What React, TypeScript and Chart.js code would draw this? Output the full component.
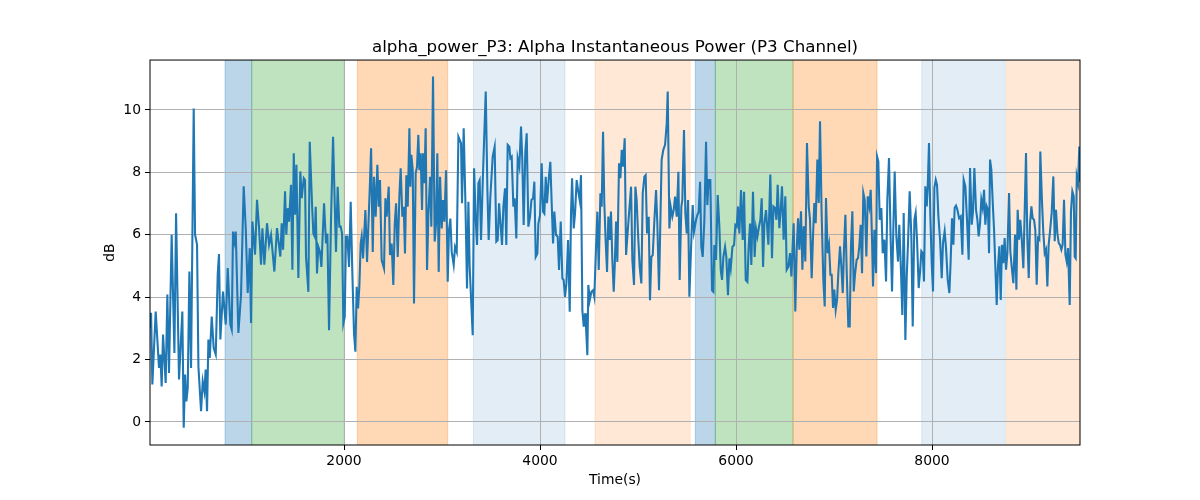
import { useEffect, useRef } from 'react';
import { Chart, registerables } from 'chart.js';

Chart.register(...registerables);

const CHART_TITLE = 'alpha_power_P3: Alpha Instantaneous Power (P3 Channel)';
const X_LABEL = 'Time(s)';
const Y_LABEL = 'dB';

const TIMES = [
  20, 31, 44, 78, 112, 126, 139, 153, 180, 197, 214, 241, 269, 286, 316, 350, 364, 378, 391, 405,
  422, 439, 466, 480, 500, 514, 541, 558, 575, 588, 602, 616, 630, 650, 670, 691, 711, 724, 738, 765,
  793, 813, 840, 854, 867, 881, 895, 908, 922, 949, 976, 997, 1017, 1038, 1051, 1065, 1092, 1112, 1133, 1153,
  1167, 1187, 1214, 1235, 1255, 1289, 1316, 1350, 1364, 1378, 1398, 1411, 1425, 1439, 1459, 1473, 1487, 1500, 1514, 1534,
  1554, 1568, 1589, 1602, 1612, 1636, 1650, 1673, 1687, 1701, 1711, 1724, 1738, 1755, 1769, 1796, 1816, 1830, 1847, 1867,
  1888, 1905, 1918, 1935, 1952, 1966, 1980, 1993, 2007, 2020, 2034, 2051, 2068, 2085, 2102, 2116, 2129, 2143, 2156, 2170,
  2180, 2194, 2218, 2235, 2248, 2262, 2276, 2293, 2306, 2323, 2340, 2354, 2367, 2384, 2408, 2422, 2435, 2456, 2469, 2486,
  2503, 2517, 2531, 2548, 2565, 2578, 2595, 2609, 2622, 2636, 2650, 2667, 2677, 2687, 2701, 2714, 2731, 2745, 2758, 2769,
  2782, 2796, 2806, 2820, 2833, 2847, 2861, 2878, 2891, 2908, 2925, 2939, 2952, 2966, 2980, 2997, 3010, 3024, 3041, 3058,
  3071, 3085, 3099, 3119, 3133, 3150, 3167, 3194, 3204, 3221, 3238, 3255, 3269, 3282, 3313, 3327, 3344, 3357, 3371, 3384,
  3398, 3418, 3446, 3463, 3476, 3493, 3517, 3537, 3554, 3568, 3582, 3599, 3612, 3626, 3643, 3656, 3670, 3687, 3697, 3711,
  3728, 3741, 3758, 3772, 3789, 3806, 3819, 3833, 3850, 3864, 3881, 3898, 3912, 3929, 3942, 3956, 3973, 3983, 4000, 4017,
  4031, 4044, 4058, 4071, 4088, 4105, 4119, 4133, 4146, 4163, 4180, 4194, 4211, 4228, 4241, 4255, 4269, 4286, 4303, 4316,
  4327, 4344, 4357, 4374, 4388, 4405, 4418, 4432, 4446, 4459, 4469, 4483, 4493, 4507, 4524, 4541, 4554, 4571, 4585, 4599,
  4616, 4629, 4643, 4656, 4670, 4684, 4697, 4711, 4724, 4738, 4752, 4762, 4776, 4789, 4806, 4820, 4834, 4847, 4864, 4878,
  4891, 4908, 4929, 4942, 4959, 4973, 4986, 5000, 5017, 5034, 5048, 5065, 5078, 5092, 5109, 5122, 5136, 5150, 5167, 5184,
  5197, 5214, 5231, 5241, 5258, 5276, 5293, 5303, 5320, 5333, 5350, 5364, 5378, 5395, 5412, 5425, 5442, 5452, 5469, 5483,
  5497, 5510, 5524, 5544, 5558, 5571, 5592, 5605, 5619, 5633, 5646, 5660, 5677, 5694, 5707, 5721, 5738, 5755, 5769, 5779,
  5796, 5813, 5830, 5844, 5857, 5871, 5888, 5901, 5918, 5932, 5946, 5963, 5980, 5993, 6007, 6020, 6034, 6051, 6068, 6082,
  6099, 6116, 6129, 6143, 6156, 6173, 6190, 6204, 6218, 6231, 6248, 6262, 6276, 6289, 6306, 6330, 6350, 6367, 6381, 6398,
  6412, 6425, 6442, 6456, 6469, 6486, 6503, 6517, 6534, 6551, 6565, 6575, 6588, 6605, 6619, 6633, 6646, 6663, 6677, 6691,
  6707, 6724, 6742, 6755, 6772, 6786, 6799, 6813, 6830, 6844, 6857, 6874, 6891, 6905, 6918, 6935, 6949, 6963, 6976, 6990,
  7003, 7017, 7031, 7044, 7061, 7075, 7089, 7102, 7116, 7129, 7146, 7160, 7173, 7187, 7201, 7214, 7231, 7245, 7258, 7272,
  7286, 7299, 7313, 7330, 7344, 7360, 7374, 7388, 7398, 7412, 7429, 7439, 7452, 7466, 7483, 7497, 7514, 7531, 7544, 7561,
  7578, 7592, 7605, 7619, 7636, 7653, 7666, 7684, 7697, 7711, 7728, 7742, 7755, 7772, 7789, 7803, 7820, 7833, 7847, 7864,
  7878, 7891, 7905, 7918, 7932, 7946, 7956, 7969, 7983, 7997, 8010, 8024, 8038, 8051, 8065, 8082, 8099, 8112, 8129, 8143,
  8160, 8177, 8190, 8204, 8218, 8231, 8245, 8259, 8276, 8293, 8310, 8323, 8340, 8357, 8374, 8388, 8405, 8418, 8432, 8449,
  8463, 8476, 8490, 8503, 8517, 8531, 8544, 8558, 8571, 8582, 8592, 8605, 8619, 8633, 8646, 8660, 8673, 8687, 8701, 8714,
  8728, 8741, 8755, 8769, 8786, 8799, 8813, 8830, 8847, 8861, 8874, 8888, 8901, 8915, 8932, 8946, 8959, 8973, 8987, 9000,
  9014, 9027, 9041, 9054, 9068, 9082, 9095, 9105, 9122, 9136, 9150, 9163, 9177, 9190, 9204, 9221, 9238, 9252, 9265, 9279,
  9293, 9306, 9320, 9333, 9347, 9361, 9374, 9388, 9405, 9418, 9432, 9446, 9456, 9466, 9477, 9490, 9503, 9510,
];

const VALUES = [
  3.0, 3.5, 1.2, 3.54, 1.73, 2.16, 1.14, 2.8, 1.25, 4.08, 1.57, 6.0, 2.21, 6.69, 1.36, 3.54, -0.19, 1.52, 0.66, 1.09,
  4.82, 1.73, 10.05, 6.0, 5.68, 1.78, 0.34, 1.3, 0.98, 1.68, 0.34, 2.64, 2.05, 3.38, 2.37, 2.16, 4.72, 5.38, 2.64, 4.18,
  3.12, 4.93, 3.12, 2.96, 6.1, 5.78, 6.1, 4.5, 2.85, 4.08, 7.55, 6.21, 4.13, 5.57, 3.17, 6.42, 5.36, 7.12, 6.21, 5.04,
  6.21, 5.04, 6.37, 5.68, 6.0, 4.82, 6.21, 5.3, 6.37, 5.52, 7.39, 6.0, 6.85, 6.42, 7.6, 4.88, 8.61, 6.64, 8.24, 4.61,
  8.03, 7.17, 7.81, 7.75, 5.29, 4.17, 8.98, 7.01, 6.04, 5.94, 6.9, 4.76, 5.61, 5.45, 4.97, 7.01, 5.72, 6.04, 2.94, 6.47,
  9.14, 7.01, 5.45, 7.54, 6.26, 6.26, 6.04, 3.16, 3.37, 5.94, 5.94, 4.97, 7.06, 4.76, 2.83, 2.25, 4.33, 3.64, 4.33, 5.72,
  5.94, 5.24, 6.79, 5.13, 6.26, 7.43, 8.77, 5.45, 7.86, 6.58, 8.24, 6.9, 7.75, 5.19, 4.92, 7.17, 6.58, 7.54, 5.35, 5.72,
  4.39, 6.31, 7.01, 5.29, 7.27, 8.13, 6.58, 6.9, 5.4, 7.91, 6.9, 9.41, 7.54, 8.56, 8.07, 3.8, 7.97, 8.18, 9.2, 8.07,
  8.61, 6.79, 8.61, 7.65, 9.41, 4.87, 6.68, 7.86, 6.26, 11.07, 5.78, 6.36, 8.61, 4.81, 7.86, 6.2, 7.11, 6.42, 8.07, 4.49,
  6.15, 6.52, 5.45, 5.03, 5.61, 5.45, 9.14, 8.93, 7.01, 9.41, 7.11, 4.28, 7.06, 4.97, 2.78, 8.13, 6.47, 5.67, 7.65, 7.75,
  5.83, 7.97, 10.59, 7.43, 5.83, 7.22, 8.5, 8.82, 5.78, 5.83, 7.01, 6.26, 5.67, 6.9, 7.49, 5.67, 8.88, 8.82, 8.45, 8.5,
  6.9, 7.17, 5.88, 8.45, 8.18, 9.47, 8.4, 6.31, 8.66, 9.25, 6.26, 6.58, 7.11, 7.17, 7.7, 5.29, 5.4, 6.36, 6.63, 8.29,
  6.74, 6.68, 7.86, 7.01, 7.75, 8.34, 7.01, 5.72, 6.74, 5.99, 5.94, 4.87, 6.42, 4.6, 4.55, 4.01, 4.44, 5.83, 3.53, 6.68,
  7.81, 6.2, 6.68, 7.75, 7.43, 7.11, 7.91, 3.58, 3.05, 3.48, 3.05, 2.14, 4.39, 3.9, 4.17, 4.22, 4.01, 5.56, 6.74, 4.87,
  7.33, 6.9, 9.3, 7.01, 5.78, 4.81, 6.58, 5.83, 6.74, 5.19, 4.17, 4.97, 6.42, 5.13, 8.29, 7.81, 8.72, 8.18, 9.09, 5.35,
  5.94, 6.68, 7.54, 5.19, 4.39, 7.54, 7.11, 6.04, 4.97, 4.44, 7.33, 7.86, 7.91, 6.04, 6.58, 3.9, 5.29, 5.35, 6.47, 7.43,
  6.36, 4.22, 6.9, 8.4, 8.72, 8.88, 9.57, 10.59, 6.2, 6.9, 6.58, 6.79, 7.22, 6.58, 8.02, 4.55, 6.9, 7.11, 9.36, 6.68,
  6.04, 7.11, 4.01, 5.83, 6.95, 6.1, 6.47, 6.63, 6.74, 7.7, 5.61, 5.29, 6.47, 8.98, 6.95, 7.75, 7.75, 4.22, 4.17, 5.67,
  5.19, 7.27, 6.26, 4.87, 4.55, 5.29, 5.61, 5.29, 4.06, 5.24, 4.92, 5.61, 5.67, 6.31, 6.26, 6.9, 6.04, 7.43, 5.83, 7.38,
  4.55, 4.49, 5.61, 6.36, 5.03, 7.38, 5.29, 6.2, 5.94, 6.2, 6.47, 7.17, 4.97, 6.36, 6.79, 5.68, 7.93, 5.25, 6.91, 6.86,
  6.48, 7.6, 6.21, 6.8, 7.55, 5.84, 7.23, 4.88, 4.98, 5.41, 4.66, 5.41, 6.37, 3.54, 5.52, 6.53, 5.52, 6.75, 4.88, 6.27,
  5.14, 8.94, 6.91, 6.48, 4.61, 6.0, 7.02, 6.37, 8.41, 7.02, 9.64, 6.59, 4.56, 3.7, 7.18, 5.41, 5.68, 4.72, 4.72, 3.65,
  4.24, 3.59, 3.91, 4.77, 5.63, 4.98, 4.13, 5.57, 6.64, 4.88, 3.06, 3.06, 5.63, 6.75, 4.18, 4.72, 5.2, 5.25, 5.63, 6.32,
  4.77, 7.34, 7.12, 5.3, 7.23, 6.91, 7.44, 5.84, 4.34, 6.16, 4.77, 8.51, 8.35, 6.48, 6.86, 5.41, 5.84, 4.5, 7.12, 8.46,
  5.84, 4.18, 6.16, 8.03, 5.95, 5.14, 6.32, 4.77, 3.43, 6.7, 2.63, 4.66, 5.73, 7.39, 5.95, 3.06, 6.48, 6.7, 5.84, 4.29,
  4.82, 5.47, 5.41, 4.5, 7.55, 6.91, 7.5, 8.94, 6.59, 5.09, 4.18, 7.5, 7.76, 7.6, 6.59, 5.84, 4.61, 5.73, 6.11, 5.57,
  4.56, 4.13, 5.14, 6.53, 5.68, 6.86, 6.93, 6.8, 6.53, 6.59, 5.36, 7.76, 7.55, 6.48, 5.2, 8.14, 6.32, 6.75, 8.14, 6.8,
  6.48, 5.95, 6.37, 7.12, 6.86, 7.44, 6.32, 6.91, 6.8, 5.41, 8.41, 8.09, 7.07, 6.16, 4.98, 3.75, 4.98, 5.63, 3.91, 5.68,
  5.09, 5.89, 4.88, 5.41, 7.34, 5.47, 4.98, 4.45, 6.0, 4.24, 6.8, 5.84, 6.48, 5.89, 4.93, 6.8, 8.62, 5.84, 4.61, 6.37,
  6.91, 6.53, 6.48, 6.16, 4.4, 5.89, 5.84, 8.67, 7.07, 6.05, 5.41, 5.52, 4.34, 5.68, 6.11, 6.7, 7.87, 5.79, 6.8, 6.05,
  5.73, 5.68, 5.52, 5.68, 7.12, 5.36, 5.14, 5.57, 3.75, 6.75, 7.39, 7.23, 5.3, 5.25, 7.87, 7.66, 8.83, 7.7,
];

const SPAN_START = [786, 1058, 2136, 3320, 4561, 5585, 5789, 6582, 7895, 8762];
const SPAN_END = [1058, 2003, 3058, 4255, 5531, 5789, 6582, 7439, 8748, 9510];
const SPAN_KIND = ['blue', 'green', 'orange', 'lightblue', 'lightorange', 'blue', 'green', 'orange', 'lightblue', 'lightorange'];

const X_TICKS = [2000, 4000, 6000, 8000];
const Y_TICKS = [0, 2, 4, 6, 8, 10];
const X_RANGE = [20, 9510];
const Y_RANGE = [-0.74, 11.6];

const SPAN_COLORS: Record<string, string> = {
  blue: 'rgba(31,119,180,0.3)',
  green: 'rgba(44,160,44,0.3)',
  orange: 'rgba(255,127,14,0.3)',
  lightblue: 'rgba(31,119,180,0.13)',
  lightorange: 'rgba(255,127,14,0.17)',
};

const spansPlugin = {
  id: 'spans',
  beforeDraw(chart: any) {
    const { ctx, chartArea, scales } = chart;
    const xs = scales.x;
    ctx.save();
    ctx.beginPath();
    ctx.rect(chartArea.left, chartArea.top, chartArea.right - chartArea.left, chartArea.bottom - chartArea.top);
    ctx.clip();
    for (let i = 0; i < SPAN_START.length; i++) {
      const x0 = xs.getPixelForValue(SPAN_START[i]);
      const x1 = xs.getPixelForValue(SPAN_END[i]);
      const c = SPAN_COLORS[SPAN_KIND[i]];
      ctx.fillStyle = c;
      ctx.fillRect(x0, chartArea.top, x1 - x0, chartArea.bottom - chartArea.top);
      ctx.strokeStyle = c;
      ctx.lineWidth = 1;
      ctx.strokeRect(x0, chartArea.top - 2, x1 - x0, chartArea.bottom - chartArea.top + 4);
    }
    ctx.restore();
  },
  afterDraw(chart: any) {
    const { ctx, chartArea } = chart;
    ctx.save();
    ctx.strokeStyle = '#000';
    ctx.lineWidth = 1;
    ctx.strokeRect(chartArea.left, chartArea.top, chartArea.right - chartArea.left, chartArea.bottom - chartArea.top);
    ctx.restore();
  },
};

const FONT = 'DejaVu Sans';

export default function App() {
  const ref = useRef<HTMLCanvasElement | null>(null);

  useEffect(() => {
    if (!ref.current) return;
    const points = TIMES.map((t, i) => ({ x: t, y: VALUES[i] }));
    const chart = new Chart(ref.current, {
      type: 'line',
      data: {
        datasets: [
          {
            data: points,
            borderColor: '#1f77b4',
            borderWidth: 2.08,
            pointRadius: 0,
            tension: 0,
            fill: false,
          },
        ],
      },
      options: {
        animation: false,
        responsive: false,
        devicePixelRatio: 1,
        layout: { padding: { left: 100, right: 120, top: 0, bottom: 8 } },
        plugins: {
          legend: { display: false },
          tooltip: { enabled: false },
          title: {
            display: true,
            fullSize: false,
            text: CHART_TITLE,
            color: '#000',
            font: { family: FONT, size: 16.7, weight: 'normal' },
            padding: { top: 38, bottom: 2 },
          },
        },
        scales: {
          x: {
            type: 'linear',
            min: X_RANGE[0],
            max: X_RANGE[1],
            afterBuildTicks: (s: any) => {
              s.ticks = X_TICKS.map((v) => ({ value: v }));
            },
            afterFit: (s: any) => {
              s.height = 47;
            },
            grid: {
              color: '#b0b0b0',
              lineWidth: 1,
              drawTicks: true,
              tickLength: 5,
              tickColor: '#000',
              tickWidth: 1,
            },
            border: { display: false },
            ticks: {
              color: '#000',
              font: { family: FONT, size: 13.9 },
              padding: 3,
              maxRotation: 0,
              callback: (v: any) => String(v),
            },
            title: {
              display: true,
              text: X_LABEL,
              color: '#000',
              font: { family: FONT, size: 13.9 },
              padding: { top: 0, bottom: 3 },
            },
          },
          y: {
            type: 'linear',
            min: Y_RANGE[0],
            max: Y_RANGE[1],
            afterBuildTicks: (s: any) => {
              s.ticks = Y_TICKS.map((v) => ({ value: v }));
            },
            afterFit: (s: any) => {
              s.width = 50;
            },
            grid: {
              color: '#b0b0b0',
              lineWidth: 1,
              drawTicks: true,
              tickLength: 5,
              tickColor: '#000',
              tickWidth: 1,
            },
            border: { display: false },
            ticks: {
              color: '#000',
              font: { family: FONT, size: 13.9 },
              padding: 4,
              callback: (v: any) => String(v),
            },
            title: {
              display: true,
              text: Y_LABEL,
              color: '#000',
              font: { family: FONT, size: 13.9 },
              padding: { top: 2, bottom: 0 },
            },
          },
        },
      },
      plugins: [spansPlugin],
    });
    return () => chart.destroy();
  }, []);

  return (
    <div style={{ position: 'absolute', left: 0, top: 0, width: 1200, height: 500, background: '#fff' }}>
      <canvas ref={ref} width={1200} height={500} style={{ display: 'block', width: 1200, height: 500 }} />
    </div>
  );
}
